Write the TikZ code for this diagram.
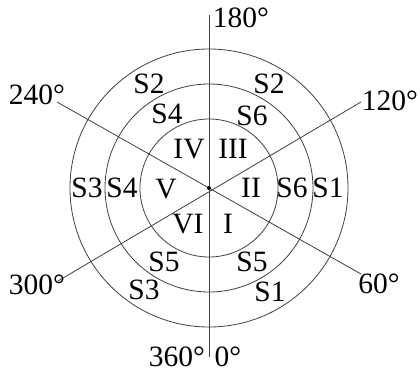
\documentclass[tikz,border=0pt]{standalone}
\usepackage{fontspec}
\setmainfont{Liberation Serif}
\begin{document}
\begin{tikzpicture}[x=1pt,y=-1pt,
  ln/.style={draw=black!75,line width=0.8pt},
  lbl/.style={inner sep=0pt,font=\fontsize{29.5}{31}\selectfont}]
\useasboundingbox (0,0) rectangle (420,375);
\coordinate (c) at (209,188);
\coordinate (top) at (209,15);
\coordinate (bot) at (209,357);
\coordinate (e240) at (57,102);
\coordinate (e120) at (361,102);
\coordinate (e60) at (361,274);
\coordinate (e300) at (58,281);
\draw[ln] (c) circle[radius=139];
\draw[ln] (c) circle[radius=104];
\draw[ln] (c) circle[radius=69];
\draw[ln] (top) -- (bot);
\draw[ln] (e240) -- (e60);
\draw[ln] (e300) -- (e120);
\fill (c) circle[radius=2];
% angle labels
\node[lbl] (a180) at (241,18) {180°};
\node[lbl] (a240) at (37,95) {240°};
\node[lbl] (a120) at (390,101) {120°};
\node[lbl] (a60) at (379,284) {60°};
\node[lbl] (a300) at (37,285) {300°};
\node[lbl] (a360) at (177,357) {360°};
\node[lbl] (a0) at (228,357) {0°};
% sector labels
\node[lbl] (s2l) at (149,84) {S2};
\node[lbl] (s2r) at (269,84) {S2};
\node[lbl] (s4t) at (167,114) {S4};
\node[lbl] (s6t) at (252,116) {S6};
\node[lbl] (r4) at (189,149) {IV};
\node[lbl] (r3) at (233,149) {III};
\node[lbl] (s3l) at (87,188) {S3};
\node[lbl] (s4l) at (122,188) {S4};
\node[lbl] (r5) at (166,189) {V};
\node[lbl] (r2) at (251,188) {II};
\node[lbl] (s6r) at (292,188) {S6};
\node[lbl] (s1r) at (328,188) {S1};
\node[lbl] (r6) at (188,224) {VI};
\node[lbl] (r1) at (228,224) {I};
\node[lbl] (s5l) at (164,262) {S5};
\node[lbl] (s5r) at (252,262) {S5};
\node[lbl] (s3b) at (144,290) {S3};
\node[lbl] (s1b) at (270,292) {S1};
\end{tikzpicture}
\end{document}
